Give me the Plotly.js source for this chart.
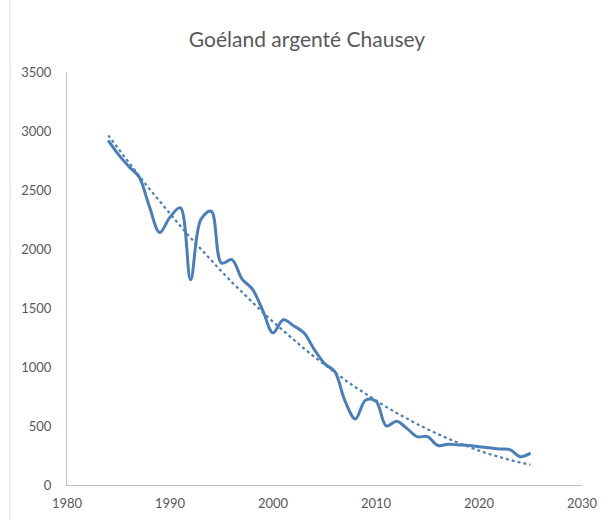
<!DOCTYPE html>
<html>
<head>
<meta charset="utf-8">
<script src="https://cdn.plot.ly/plotly-3.0.1.min.js"></script>
<style>html,body{margin:0;padding:0;background:#fff;}#chart{width:614px;height:520px;}</style>
</head>
<body>
<div id="chart"></div>
<script>
const years = [1984,1985,1986,1987,1988,1989,1990,1991,1992,1993,1994,1995,1996,1997,1998,1999,2000,2001,2002,2003,2004,2005,2006,2007,2008,2009,2010,2011,2012,2013,2014,2015,2016,2017,2018,2019,2020,2021,2022,2023,2024,2025];
const counts = [2920,2800,2700,2610,2360,2140,2270,2350,1740,2250,2320,1880,1910,1745,1660,1480,1290,1400,1350,1290,1150,1030,960,710,560,720,710,500,540,480,410,410,335,345,340,335,325,315,305,300,240,270];
const xTicks = [1980,1990,2000,2010,2020,2030];
const yTicks = [0,500,1000,1500,2000,2500,3000,3500];
const chartTitle = "Goéland argenté Chausey";

// quadratic least-squares trend (like Excel polynomial trendline, order 2)
function polyFit2(xs, ys) {
  const x0 = xs[0];
  let S = [0,0,0,0,0], T = [0,0,0];
  for (let i = 0; i < xs.length; i++) {
    const t = xs[i] - x0;
    let p = 1;
    for (let k = 0; k < 5; k++) { S[k] += p; if (k < 3) T[k] += p * ys[i]; p *= t; }
  }
  const A = [[S[0],S[1],S[2],T[0]],[S[1],S[2],S[3],T[1]],[S[2],S[3],S[4],T[2]]];
  for (let i = 0; i < 3; i++) {
    for (let j = i + 1; j < 3; j++) {
      const f = A[j][i] / A[i][i];
      for (let k = i; k < 4; k++) A[j][k] -= f * A[i][k];
    }
  }
  const c = [0,0,0];
  for (let i = 2; i >= 0; i--) {
    let s = A[i][3];
    for (let k = i + 1; k < 3; k++) s -= A[i][k] * c[k];
    c[i] = s / A[i][i];
  }
  return xs.map(x => { const t = x - x0; return c[0] + c[1]*t + c[2]*t*t; });
}
const trend = polyFit2(years, counts);

const blue = '#4a7ebb';
const textColor = '#595959';
const axisColor = '#bfbfbf';
const font = 'Lato, "Open Sans", sans-serif';

const mL = 67, mR = 32, mT = 72, mB = 35, W = 614, H = 520;
const plotW = W - mL - mR;

const data = [
  {x: years, y: counts, type: 'scatter', mode: 'lines',
   line: {color: blue, width: 3, shape: 'spline', smoothing: 1}, hoverinfo: 'x+y', showlegend: false},
  {x: years, y: trend, type: 'scatter', mode: 'lines',
   line: {color: blue, width: 2.2, dash: 'dot'}, hoverinfo: 'skip', showlegend: false}
];

const layout = {
  width: W, height: H,
  margin: {l: mL, r: mR, t: mT, b: mB, pad: 0},
  paper_bgcolor: '#fff', plot_bgcolor: '#fff',
  title: {text: chartTitle, x: 0.5, xanchor: 'center', y: 1 - 40/H, yanchor: 'middle',
          font: {family: font, size: 21, color: textColor}},
  xaxis: {range: [1980, 2030], tickvals: xTicks, ticktext: xTicks.map(String),
          showgrid: false, zeroline: false, showline: true, linecolor: axisColor, linewidth: 1,
          ticks: '', ticklabelstandoff: 6, tickfont: {family: font, size: 13, color: textColor}, fixedrange: true},
  yaxis: {range: [0, 3500], tickvals: yTicks, ticktext: yTicks.map(String),
          showgrid: false, zeroline: false, showline: true, linecolor: axisColor, linewidth: 1,
          ticks: '', ticklabelstandoff: 12, tickfont: {family: font, size: 13, color: textColor}, fixedrange: true},
  shapes: [
    {type: 'line', xref: 'paper', yref: 'paper',
     x0: (10 - mL) / plotW, x1: (10 - mL) / plotW, y0: -mB/(H-mT-mB), y1: 1 + mT/(H-mT-mB),
     line: {color: '#d9d9d9', width: 1}}
  ]
};

Plotly.newPlot('chart', data, layout, {displayModeBar: false, staticPlot: true});
</script>
</body>
</html>
